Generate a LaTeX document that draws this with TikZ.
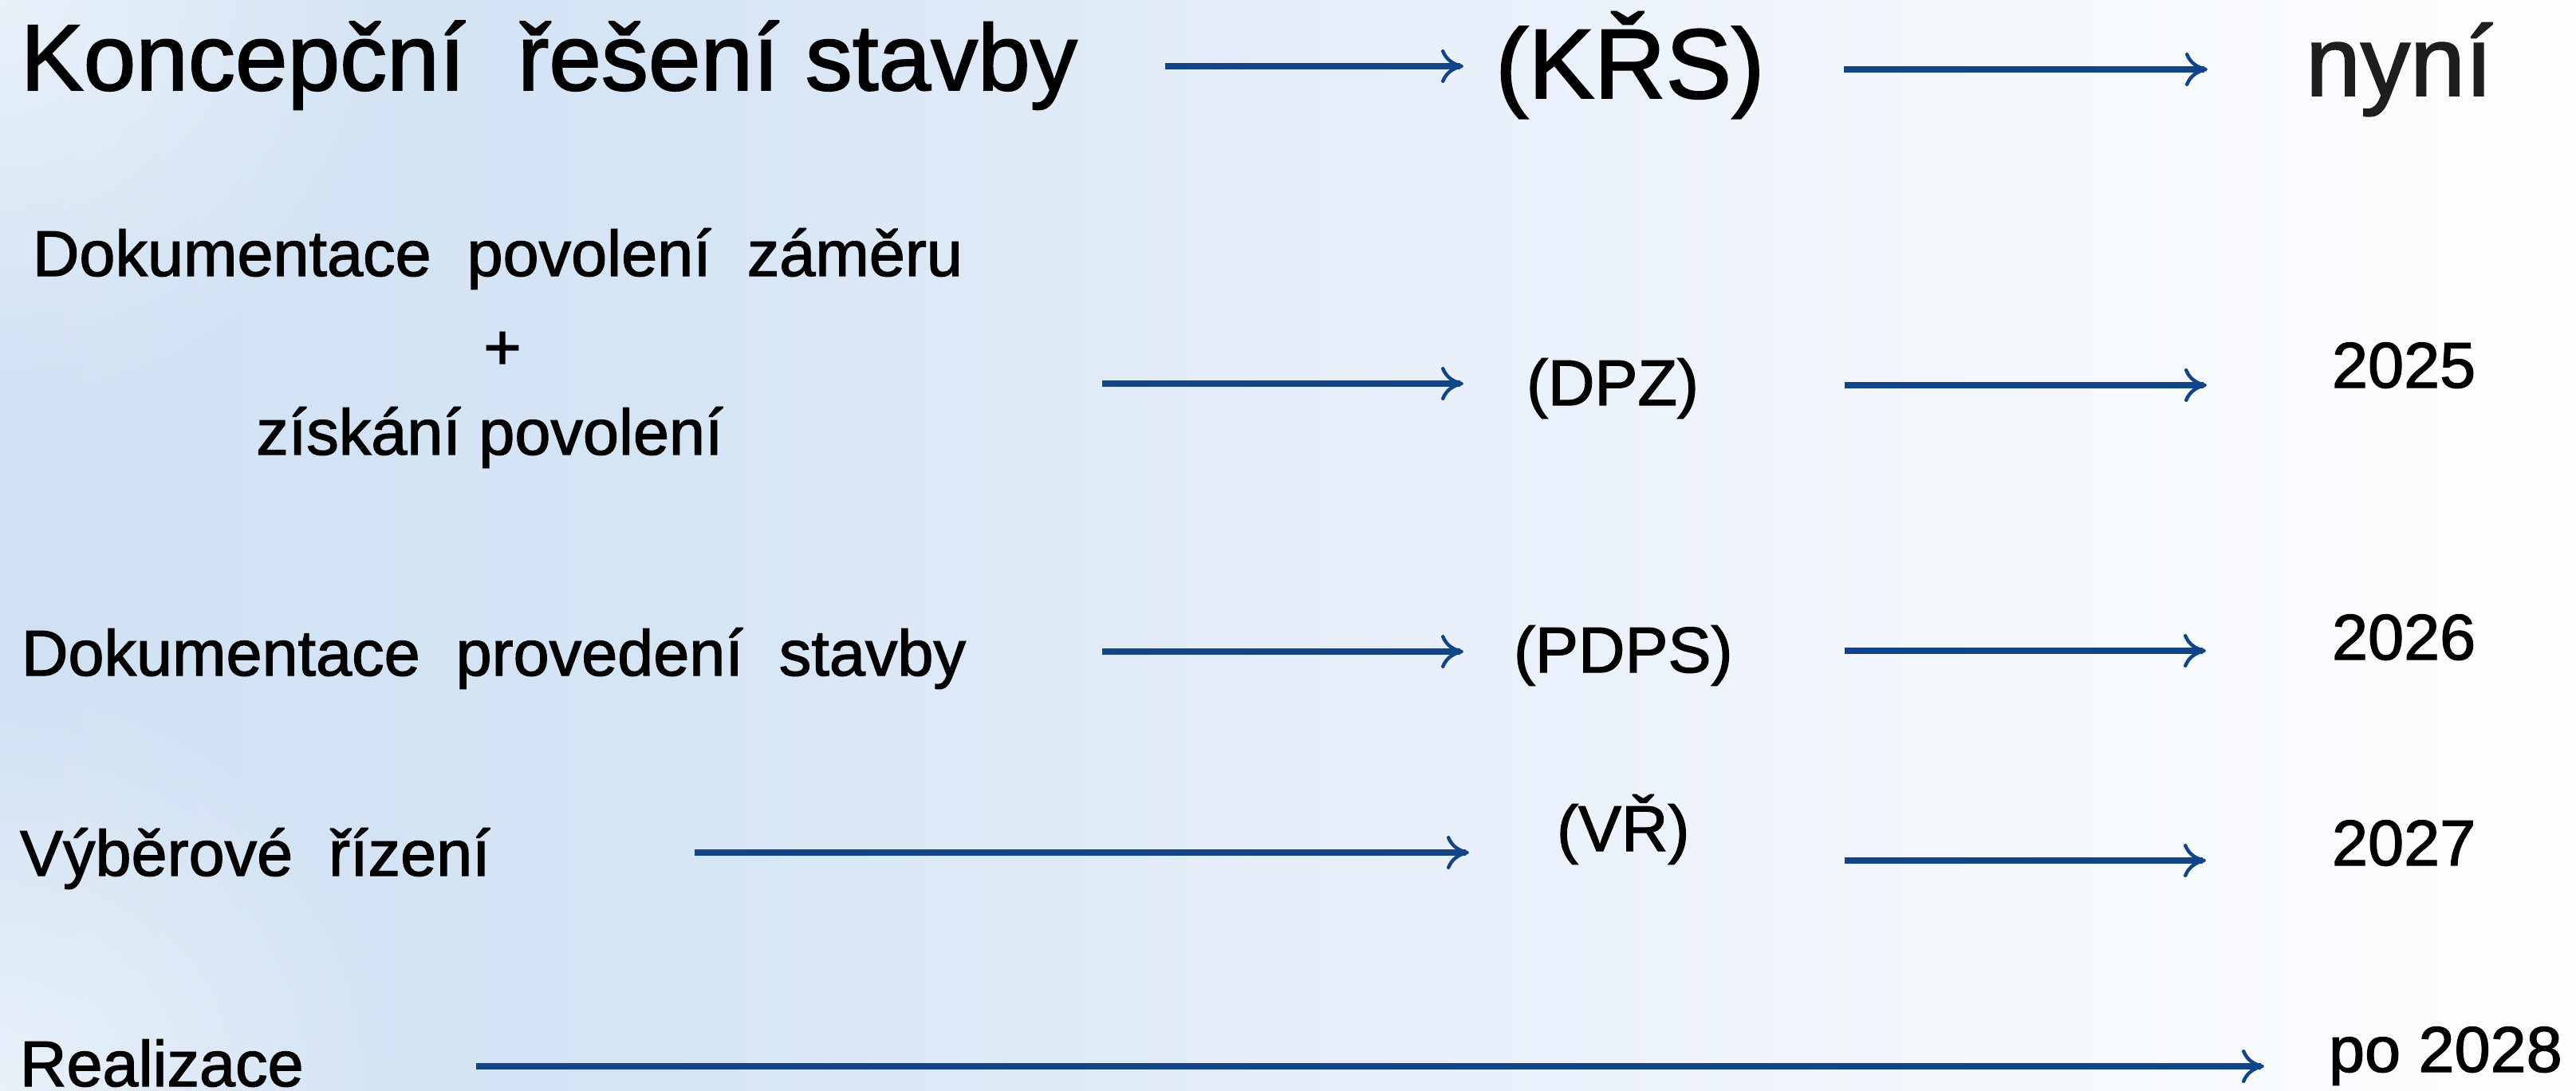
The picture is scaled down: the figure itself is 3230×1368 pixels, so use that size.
\documentclass[tikz,border=0pt]{standalone}
\usepackage{fontspec}
\setmainfont{Liberation Sans}[FakeBold=1.6]
\usetikzlibrary{arrows.meta,fadings}
\definecolor{arrblue}{HTML}{124489}
\definecolor{bgA}{HTML}{D0E1F2}
\definecolor{bgB}{HTML}{D5E5F4}
\definecolor{bgC}{HTML}{E5EDF8}
\definecolor{bgD}{HTML}{F3F7FC}
\definecolor{bgE}{HTML}{FDFEFF}
\definecolor{nynigray}{HTML}{1E1E1E}
\pgfdeclarehorizontalshading{bgshade}{100bp}{color(0bp)=(bgA); color(25bp)=(bgA); color(37.5bp)=(bgB); color(50bp)=(bgC); color(62.5bp)=(bgD); color(75bp)=(bgE); color(100bp)=(bgE)}
\tikzfading[name=cornerfade, inner color=transparent!0, outer color=transparent!100]
\tikzset{
  txt/.style={inner sep=0pt, outer sep=0pt, anchor=base west, text=black},
  big/.style={font=\fontsize{29.5pt}{35pt}\selectfont},
  bigger/.style={font=\fontsize{31pt}{37pt}\selectfont},
  norm/.style={font=\fontsize{20.25pt}{24pt}\selectfont},
  arr/.style={draw=arrblue, line width=2.2pt,
    -{Computer Modern Rightarrow[length=7pt,width=10.5pt,line width=1.1pt]}}
}
\begin{document}
\begin{tikzpicture}[x=0.25pt, y=-0.25pt]
\useasboundingbox (0,0) rectangle (3230,1368);
\begin{scope}
\clip (0,0) rectangle (3230,1368);
\shade[shading=bgshade] (0,0) rectangle (3230,1368);
\fill[white, fill opacity=0.55, path fading=cornerfade] (0,0) circle (520);
\fill[white, fill opacity=0.55, path fading=cornerfade] (0,1368) circle (520);
\end{scope}

% row 1
\node[txt, big] (krs-l) at (26,113) {Koncepční\ \ řešení stavby};
\node[txt, bigger] (krs) at (1875,123) {(KŘS)};
\node[txt, bigger, text=nynigray] (nyni) at (2891,120) {nyní};

% row 2
\node[txt, norm, anchor=base] (dpz-l1) at (624,346) {Dokumentace\ \ povolení\ \ záměru};
\node[txt, norm, anchor=base] (dpz-plus) at (630,463) {+};
\node[txt, norm, anchor=base] (dpz-l2) at (614,570) {získání povolení};
\node[txt, norm] (dpz) at (1914,508) {(DPZ)};
\node[txt, norm] (y2025) at (2924,486) {2025};

% row 3
\node[txt, norm] (pdps-l) at (27,847) {Dokumentace\ \ provedení\ \ stavby};
\node[txt, norm] (pdps) at (1898,843) {(PDPS)};
\node[txt, norm] (y2026) at (2924,827) {2026};

% row 4
\node[txt, norm] (vr-l) at (25,1098) {Výběrové\ \ řízení};
\node[txt, norm] (vr) at (1952,1067) {(VŘ)};
\node[txt, norm] (y2027) at (2924,1085) {2027};

% row 5
\node[txt, norm] (real-l) at (25,1362) {Realizace};
\node[txt, norm] (y2028) at (2920,1344) {po 2028};

% arrow end points
\coordinate (a1s) at (1461,83);  \coordinate (a1e) at (1835,83);
\coordinate (a2s) at (2312,87);  \coordinate (a2e) at (2768,87);
\coordinate (a3s) at (1382,481); \coordinate (a3e) at (1835,481);
\coordinate (a4s) at (2313,483); \coordinate (a4e) at (2767,483);
\coordinate (a5s) at (1382,817); \coordinate (a5e) at (1835,817);
\coordinate (a6s) at (2313,816); \coordinate (a6e) at (2766,816);
\coordinate (a7s) at (871,1069); \coordinate (a7e) at (1842,1069);
\coordinate (a8s) at (2313,1079); \coordinate (a8e) at (2766,1079);
\coordinate (a9s) at (597,1337); \coordinate (a9e) at (2839,1337);

\draw[arr] (a1s) -- (a1e);
\draw[arr] (a2s) -- (a2e);
\draw[arr] (a3s) -- (a3e);
\draw[arr] (a4s) -- (a4e);
\draw[arr] (a5s) -- (a5e);
\draw[arr] (a6s) -- (a6e);
\draw[arr] (a7s) -- (a7e);
\draw[arr] (a8s) -- (a8e);
\draw[arr] (a9s) -- (a9e);
\end{tikzpicture}
\end{document}
